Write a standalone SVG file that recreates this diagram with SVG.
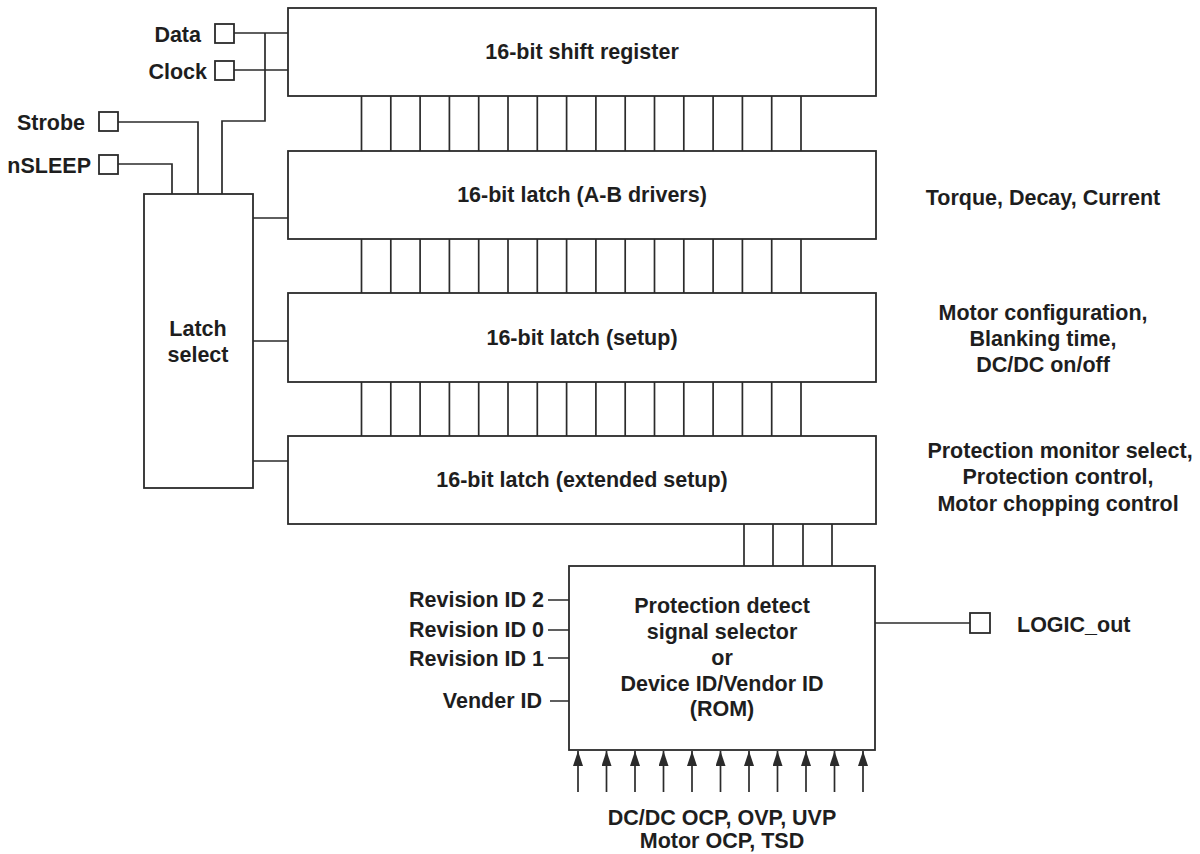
<svg xmlns="http://www.w3.org/2000/svg" width="1200" height="854" viewBox="0 0 1200 854">
<defs>
<style>
.b{fill:#fff;stroke:#2b2b2b;stroke-width:1.8}
.w{fill:none;stroke:#2b2b2b;stroke-width:1.7}
.t{font-family:"Liberation Sans",Arial,sans-serif;font-weight:bold;font-size:21.5px;fill:#1e1e1e}
.m{text-anchor:middle}
.e{text-anchor:end}
</style>
<marker id="ah" viewBox="0 0 15 10" refX="15" refY="5" markerWidth="15" markerHeight="10" markerUnits="userSpaceOnUse" orient="auto">
<path d="M0,0 L15,5 L0,10 Z" fill="#2b2b2b"/>
</marker>
</defs>
<rect width="1200" height="854" fill="#fff"/>

<g id="connectors">
<path class="w" d="M234,33H288 M234,70H288 M265,33V121H222V194 M118,122H198V194 M118,164H172V194"/>
<path class="w" d="M253,218H288 M253,341H288 M253,461H288"/>
<path class="w" d="M361.5,96V151 M390.8,96V151 M420.1,96V151 M449.4,96V151 M478.7,96V151 M508,96V151 M537.3,96V151 M566.6,96V151 M595.9,96V151 M625.2,96V151 M654.5,96V151 M683.8,96V151 M713.1,96V151 M742.4,96V151 M771.7,96V151 M801,96V151"/>
<path class="w" d="M361.5,239V293 M390.8,239V293 M420.1,239V293 M449.4,239V293 M478.7,239V293 M508,239V293 M537.3,239V293 M566.6,239V293 M595.9,239V293 M625.2,239V293 M654.5,239V293 M683.8,239V293 M713.1,239V293 M742.4,239V293 M771.7,239V293 M801,239V293"/>
<path class="w" d="M361.5,382V436 M390.8,382V436 M420.1,382V436 M449.4,382V436 M478.7,382V436 M508,382V436 M537.3,382V436 M566.6,382V436 M595.9,382V436 M625.2,382V436 M654.5,382V436 M683.8,382V436 M713.1,382V436 M742.4,382V436 M771.7,382V436 M801,382V436"/>
<path class="w" d="M744,524V566 M773,524V566 M803,524V566 M832,524V566"/>
<path class="w" d="M548,600H569 M548,630H569 M548,658H569 M550,701H569"/>
<path class="w" d="M875,623H970"/>
<g marker-end="url(#ah)">
<line class="w" x1="578" y1="792" x2="578" y2="751"/>
<line class="w" x1="606.5" y1="792" x2="606.5" y2="751"/>
<line class="w" x1="635" y1="792" x2="635" y2="751"/>
<line class="w" x1="663.5" y1="792" x2="663.5" y2="751"/>
<line class="w" x1="692" y1="792" x2="692" y2="751"/>
<line class="w" x1="720.5" y1="792" x2="720.5" y2="751"/>
<line class="w" x1="749" y1="792" x2="749" y2="751"/>
<line class="w" x1="777.5" y1="792" x2="777.5" y2="751"/>
<line class="w" x1="806" y1="792" x2="806" y2="751"/>
<line class="w" x1="834.5" y1="792" x2="834.5" y2="751"/>
<line class="w" x1="863" y1="792" x2="863" y2="751"/>
</g>
</g>

<g id="pin-data"><rect class="b" x="215" y="24" width="19" height="19"/><text class="t e" x="201" y="42">Data</text></g>
<g id="pin-clock"><rect class="b" x="215" y="61" width="19" height="19"/><text class="t e" x="207" y="79">Clock</text></g>
<g id="pin-strobe"><rect class="b" x="99" y="112" width="19" height="19"/><text class="t e" x="85" y="130">Strobe</text></g>
<g id="pin-nsleep"><rect class="b" x="99" y="155" width="19" height="19"/><text class="t e" x="91" y="173">nSLEEP</text></g>

<g id="latch-select"><rect class="b" x="144" y="194" width="109" height="294"/>
<text class="t m" x="198" y="336">Latch</text><text class="t m" x="198" y="362">select</text></g>

<g id="shift-register"><rect class="b" x="288" y="8" width="588" height="88"/><text class="t m" x="582" y="59">16-bit shift register</text></g>
<g id="latch-ab"><rect class="b" x="288" y="151" width="588" height="88"/><text class="t m" x="582" y="202">16-bit latch (A-B drivers)</text></g>
<g id="latch-setup"><rect class="b" x="288" y="293" width="588" height="89"/><text class="t m" x="582" y="345">16-bit latch (setup)</text></g>
<g id="latch-ext"><rect class="b" x="288" y="436" width="588" height="88"/><text class="t m" x="582" y="487">16-bit latch (extended setup)</text></g>

<g id="label-ab"><text class="t m" x="1043" y="205">Torque, Decay, Current</text></g>
<g id="label-setup"><text class="t m" x="1043" y="320">Motor configuration,</text><text class="t m" x="1043" y="346">Blanking time,</text><text class="t m" x="1043" y="372">DC/DC on/off</text></g>
<g id="label-ext"><text class="t m" x="1060" y="458">Protection monitor select,</text><text class="t m" x="1058" y="484">Protection control,</text><text class="t m" x="1058" y="511">Motor chopping control</text></g>

<g id="protection"><rect class="b" x="569" y="566" width="306" height="184"/>
<text class="t m" x="722" y="613">Protection detect</text>
<text class="t m" x="722" y="639">signal selector</text>
<text class="t m" x="722" y="665">or</text>
<text class="t m" x="722" y="691">Device ID/Vendor ID</text>
<text class="t m" x="722" y="716">(ROM)</text></g>

<g id="rev-ids">
<text class="t e" x="544" y="607">Revision ID 2</text>
<text class="t e" x="544" y="637">Revision ID 0</text>
<text class="t e" x="544" y="666">Revision ID 1</text>
<text class="t e" x="542" y="708">Vender ID</text>
</g>

<g id="logic-out"><rect class="b" x="970" y="613" width="20" height="20"/><text class="t" x="1017" y="632">LOGIC_out</text></g>

<g id="prot-inputs"><text class="t m" x="722" y="825">DC/DC OCP, OVP, UVP</text><text class="t m" x="722" y="848">Motor OCP, TSD</text></g>
</svg>
